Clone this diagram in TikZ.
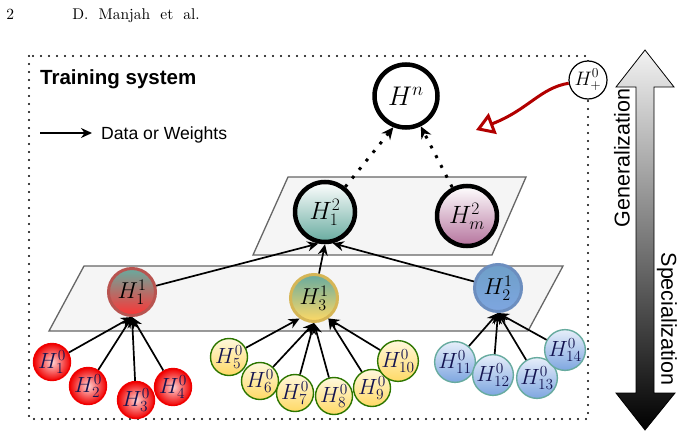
\RequirePackage{fix-cm}
\documentclass[tikz,border=0pt]{standalone}
\usepackage{fontspec}
\newfontfamily\arial{Liberation Sans}
\usetikzlibrary{arrows.meta,shapes.geometric}
\definecolor{parafill}{HTML}{F5F5F5}
\definecolor{paradraw}{HTML}{666666}
\definecolor{teal1}{HTML}{67AB9F}
\definecolor{red1}{HTML}{FF3333}
\definecolor{redborder}{HTML}{B85450}
\definecolor{gold1}{HTML}{FFD966}
\definecolor{goldborder}{HTML}{D6B656}
\definecolor{blue1}{HTML}{7EA6E0}
\definecolor{bluetop}{HTML}{6E9FC8}
\definecolor{blueborder}{HTML}{6C8EBF}
\definecolor{pink1}{HTML}{B5739D}
\definecolor{leafred}{HTML}{F00000}
\definecolor{leafredin}{HTML}{FFD2D2}
\definecolor{leafyelltop}{HTML}{FFF8DC}
\definecolor{green1}{HTML}{2D7600}
\definecolor{leafbluetop}{HTML}{E6EEFA}
\definecolor{navy1}{HTML}{141450}
\definecolor{darkred1}{HTML}{B20000}
\definecolor{arrtop}{HTML}{F2F2F2}
\tikzset{
  para/.style={fill=parafill, draw=paradraw, line width=1.3pt},
  arr/.style={line width=1.7pt, -{Stealth[length=11pt,width=10pt]}},
  dotarr/.style={line width=3pt, dash pattern=on 3pt off 8pt, -{Stealth[length=12pt,width=11pt]}},
  redarr/.style={draw=darkred1, line width=3pt, -{Triangle[open,length=18pt,width=22pt]}},
  hnode/.style={circle, inner sep=0pt},
  hbig/.style={hnode, draw=black, line width=4.5pt, fill=white, minimum size=63pt, font=\fontsize{27}{27}\selectfont},
  hmid/.style={hnode, draw=black, line width=4.5pt, minimum size=60pt, font=\fontsize{25}{25}\selectfont},
  hone/.style={hnode, line width=3pt, minimum size=47pt, font=\fontsize{23}{23}\selectfont},
  leaf/.style={hnode, line width=1.4pt, minimum size=37pt, text=navy1, font=\fontsize{22}{22}\selectfont},
  redleaf/.style={leaf, draw=leafred, inner color=leafredin, outer color=leafred},
  yelleaf/.style={leaf, draw=green1, top color=leafyelltop, bottom color=gold1},
  blueleaf/.style={leaf, draw=teal1, top color=leafbluetop, bottom color=blue1},
  sidetext/.style={font=\arial\fontsize{21.5}{22}\selectfont, inner sep=0pt},
  hdr/.style={anchor=base west, inner sep=0pt, scale=1.6, transform shape, font=\fontsize{9.7}{10}\selectfont}
}
\begin{document}
\begin{tikzpicture}[x=1pt,y=-1pt]
\useasboundingbox (0,0) rectangle (682,436);
% header
\node[hdr] (pnum) at (6,20) {2};
\node[hdr] (auth) at (72,20) {\spaceskip=6.3pt D. Manjah et al.};
% frame
\draw[line width=2.2pt, dash pattern=on 0pt off 8pt, line cap=round] (29,56) rectangle (588,419);
\node[anchor=base west, inner sep=0pt, font=\arial\bfseries\fontsize{20.5}{21}\selectfont] (title) at (40,84) {Training system};
\coordinate (la) at (40,133);
\coordinate (lb) at (92,133);
\draw[arr] (la) -- (lb);
\node[anchor=base west, inner sep=0pt, font=\arial\fontsize{17.6}{18}\selectfont] (leg) at (101,139) {Data or Weights};
% parallelograms
\draw[para] (253,255) -- (288,177) -- (526,177) -- (492,255) -- cycle;
\draw[para] (49,331) -- (84,266) -- (563,266) -- (528,331) -- cycle;
% gradient double arrow
\path[draw=black, line width=0.8pt, top color=arrtop, bottom color=black]
  (645,50) -- (674,87) -- (654,87) -- (654,393) -- (675,393) -- (645,430)
  -- (616,393) -- (636,393) -- (636,87) -- (616,87) -- cycle;
\node[sidetext, rotate=90] (gen) at (622,158) {Generalization};
\node[sidetext, rotate=-90] (spec) at (667,319) {Specialization};
% main nodes
\node[hbig] (hn) at (406,96) {$H^n$};
\node[hmid, top color=white, bottom color=teal1] (h21) at (325,212) {$H^2_1$};
\node[hmid, top color=white, bottom color=pink1] (h2m) at (467,216) {$H^2_m$};
\node[hone, draw=redborder, top color=teal1, bottom color=red1] (h11) at (132,292) {$H^1_1$};
\node[hone, draw=goldborder, top color=teal1, bottom color=gold1] (h13) at (314,298) {$H^1_3$};
\node[hone, draw=blueborder, top color=bluetop, bottom color=blue1] (h12) at (498,288) {$H^1_2$};
\node[hnode, draw=black, line width=1.2pt, fill=white, minimum size=38pt, font=\fontsize{19.5}{19.5}\selectfont] (hp) at (588,80) {$H^0_+$};
% leaves
\node[redleaf] (l1) at (52,362) {$H^0_1$};
\node[redleaf] (l2) at (88,386) {$H^0_2$};
\node[redleaf] (l3) at (136,400) {$H^0_3$};
\node[redleaf] (l4) at (173,387) {$H^0_4$};
\node[yelleaf] (l5) at (229,357) {$H^0_5$};
\node[yelleaf] (l6) at (260,381) {$H^0_6$};
\node[yelleaf] (l7) at (295,393) {$H^0_7$};
\node[yelleaf] (l8) at (334,396) {$H^0_8$};
\node[yelleaf] (l9) at (372,388) {$H^0_9$};
\node[yelleaf] (l10) at (398,361) {$H^0_{10}$};
\node[blueleaf] (l11) at (455,362) {$H^0_{11}$};
\node[blueleaf] (l12) at (493,375) {$H^0_{12}$};
\node[blueleaf] (l13) at (537,378) {$H^0_{13}$};
\node[blueleaf] (l14) at (565,350) {$H^0_{14}$};
% leaf arrows
\foreach \l in {l1,l2,l3,l4} \draw[arr] (\l) -- (h11.south);
\draw[arr] (l5) -- (h13.-125);
\foreach \l in {l6,l7,l8} \draw[arr] (\l) -- (h13.south);
\foreach \l in {l9,l10} \draw[arr] (\l) -- (h13.-55);
\foreach \l in {l11,l12,l13,l14} \draw[arr] (\l) -- (h12.south);
% level 1 to level 2
\draw[arr] (h11) -- (h21.-102);
\draw[arr] (h13) -- (h21.south);
\draw[arr] (h12) -- (h21.-76);
% level 2 to top
\draw[dotarr] (h21) -- (hn.-112);
\draw[dotarr] (h2m) -- (hn.-64);
% new model arrow
\coordinate (rt) at (476,130);
\draw[redarr] (hp) .. controls (540,88) and (528,110) .. (rt);
\end{tikzpicture}
\end{document}
